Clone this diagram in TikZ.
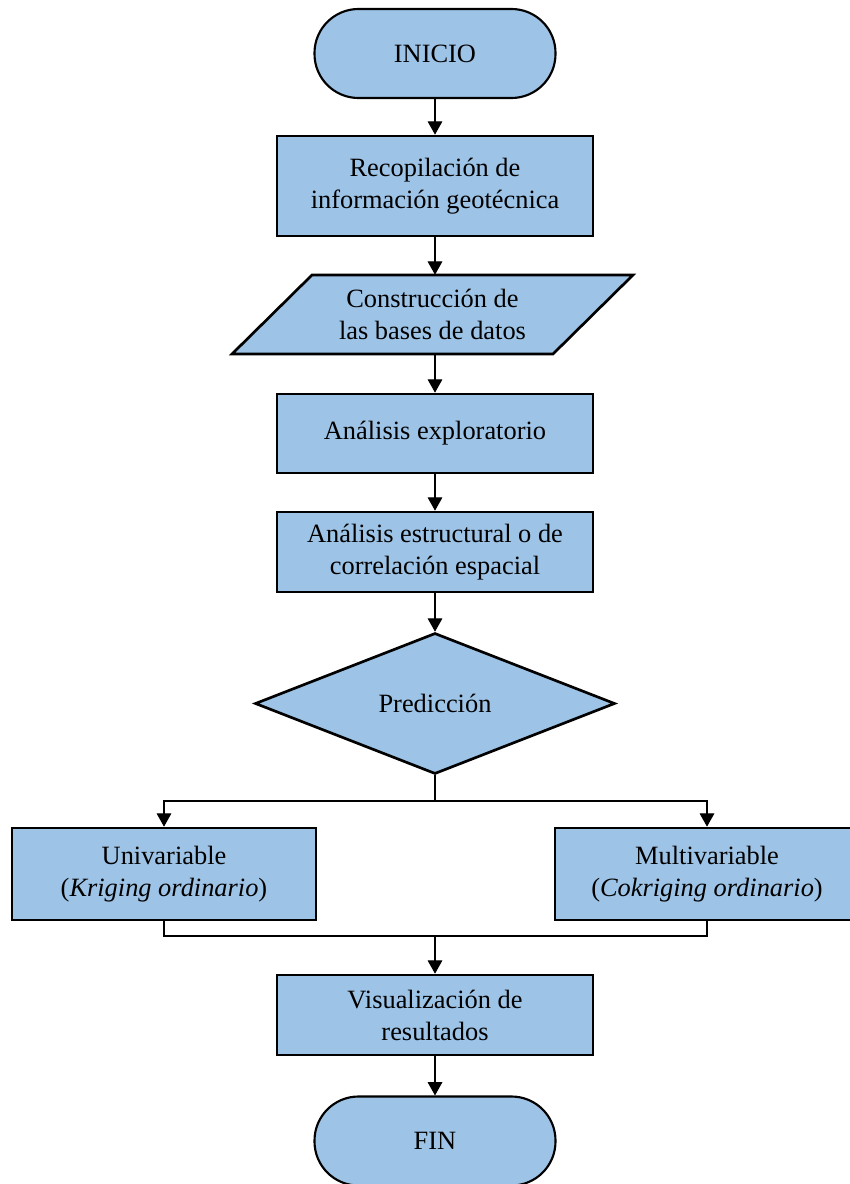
\documentclass[tikz,border=0pt]{standalone}
\usepackage{fontspec}
\setmainfont{Liberation Serif}
\usetikzlibrary{shapes.geometric,arrows.meta}
\definecolor{boxblue}{RGB}{157,195,230}
\begin{document}
\begin{tikzpicture}[x=0.75pt,y=-0.75pt,
  every node/.style={font=\fontsize{19.8pt}{24pt}\selectfont, align=center, inner sep=0pt},
  procbox/.style={rectangle, draw=black, fill=boxblue, line width=2pt, minimum width=237pt},
  termbox/.style={rectangle, draw=black, fill=boxblue, line width=1.6pt, minimum width=180.75pt, minimum height=66.75pt, rounded corners=33pt},
  decbox/.style={diamond, draw=black, fill=boxblue, line width=2pt, minimum width=270pt, minimum height=105.75pt},
  conn/.style={line width=0.8pt, draw=black},
  arrowc/.style={conn, -{Triangle[length=10pt,width=11pt]}}
]
\useasboundingbox (0,0) rectangle (849,1184);

\node[termbox] (ini) at (435,53.5) {INICIO};
\node[procbox, minimum height=75pt] (rec) at (435,186) {Recopilación de\\información geotécnica};
% parallelogram
\fill[boxblue] (312,275) -- (633,275) -- (553,354) -- (232,354) -- cycle;
\draw[line width=2pt, line join=miter] (312,275) -- (633,275) -- (553,354) -- (232,354) -- cycle;
\node[minimum width=150pt, minimum height=59.25pt] (db) at (432.5,314.5) {Construcción de\\las bases de datos};
\node[procbox, minimum height=59.25pt] (exp) at (435,433.5) {Análisis exploratorio};
\node[procbox, minimum height=60pt] (est) at (435,552) {Análisis estructural o de\\correlación espacial};
\node[decbox] (pred) at (435,703.5) {Predicción};
\node[procbox, minimum width=228pt, minimum height=69pt] (uni) at (164,874) {Univariable\\(\textit{Kriging ordinario})};
\node[procbox, minimum width=228pt, minimum height=69pt] (mul) at (707,874) {Multivariable\\(\textit{Cokriging ordinario})};
\node[procbox, minimum height=60pt] (vis) at (435,1015) {Visualización de\\resultados};
\node[termbox] (fin) at (435,1141) {FIN};

\coordinate (br) at (435,801);
\coordinate (mg) at (435,936);

\draw[arrowc] (ini.south) -- (rec.north);
\draw[arrowc] (rec.south) -- (rec.south |- db.north);
\draw[arrowc] (rec.south |- db.south) -- (exp.north);
\draw[arrowc] (exp.south) -- (est.north);
\draw[arrowc] (est.south) -- (pred.north);
\draw[conn] (pred.south) -- (br);
\draw[arrowc] (br) -| (uni.north);
\draw[arrowc] (br) -| (mul.north);
\draw[conn] (uni.south) |- (mg) -| (mul.south);
\draw[arrowc] (mg) -- (vis.north);
\draw[arrowc] (vis.south) -- (fin.north);
\end{tikzpicture}
\end{document}
